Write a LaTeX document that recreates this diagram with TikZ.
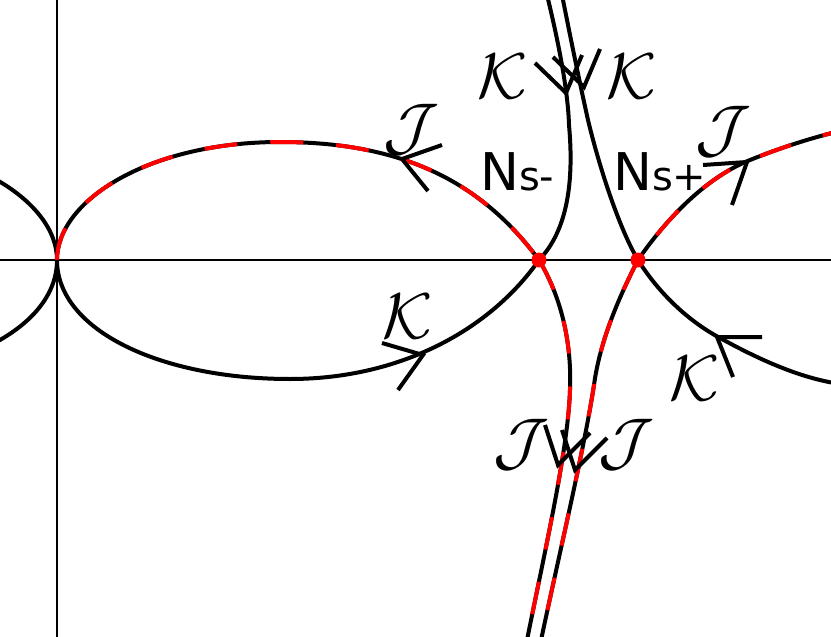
\documentclass[tikz,border=0pt]{standalone}
\usepackage{fontspec}
\newfontfamily\dvs{DejaVu Sans}
\newcommand{\bigcal}[1]{\scalebox{2.6}{\Huge$\mathcal{#1}$}}
\tikzset{
  kcurve/.style={line width=4pt, black},
  jcurve/.style={line width=4pt, black, postaction={draw=red, dash pattern=on 33pt off 33pt, dash phase=#1}},
  jcurve/.default=0pt,
  chev/.style={line width=4pt, black, line join=miter},
  axisline/.style={line width=1.5pt, black},
  lbl/.style={inner sep=0pt},
  nlbl/.style={inner sep=0pt, anchor=base west},
  saddle/.style={circle, fill=red, inner sep=0pt, minimum size=15pt}
}
\begin{document}
\begin{tikzpicture}[x=1pt, y=-1pt]
\useasboundingbox (0,0) rectangle (831,637);
\begin{scope}
\clip (0,0) rectangle (831,637);
\coordinate (o) at (57,260);
\coordinate (sm) at (539,260);
\coordinate (sp) at (638,260);
% axes
\draw[axisline] (0,260) -- (831,260);
\draw[axisline] (57,0) -- (57,637);
% left loop (mirror)
\draw[kcurve] (o) .. controls (57,200) and (-36,142) .. (-166,142);
\draw[kcurve] (o) .. controls (57,330) and (-46,379) .. (-176,379);
% main loop
\draw[jcurve] (o) .. controls (57,200) and (150,142) .. (280,142) .. controls (400,142) and (480,180) .. (sm);
\draw[kcurve] (o) .. controls (57,330) and (160,379) .. (290,379) .. controls (400,379) and (490,330) .. (sm);
% upward K curves
\draw[kcurve] (sm) .. controls (568,230) and (574,180) .. (569,125) .. controls (568,90) and (558,40) .. (547,-5);
\draw[kcurve] (sp) .. controls (620,230) and (600,170) .. (588,120) .. controls (578,75) and (570,35) .. (562,-5);
% downward J curves
\draw[jcurve] (sm) .. controls (560,295) and (572,340) .. (570,390) .. controls (568,450) and (545,550) .. (526,645);
\draw[jcurve] (sp) .. controls (620,295) and (600,340) .. (594,385) .. controls (584,450) and (560,550) .. (540,645);
% right loop
\draw[jcurve=35pt] (sp) .. controls (660,228) and (700,180) .. (750,160) .. controls (785,146) and (815,137) .. (840,131);
\draw[kcurve] (sp) .. controls (660,295) and (690,322) .. (720,338) .. controls (760,360) and (800,378) .. (840,384);
% chevrons
\draw[chev] (442,145) -- (402,159) -- (428,191);
\draw[chev] (382,343) -- (423,355) -- (398,390);
\draw[chev] (703,165) -- (747,162) -- (732,205);
\draw[chev] (762,337) -- (717,337) -- (733,377);
\draw[chev] (535,63) -- (566,93) -- (582,55);
\draw[chev] (553,57) -- (584,87) -- (600,49);
\draw[chev] (545,425) -- (558,465) -- (590,433);
\draw[chev] (562,430) -- (575,470) -- (607,438);
% saddle points
\node[saddle] (nsm) at (sm) {};
\node[saddle] (nsp) at (sp) {};
\end{scope}
% labels
\node[lbl] (k1) at (503,76) {\bigcal{K}};
\node[lbl] (k2) at (632,76) {\bigcal{K}};
\node[lbl] (j1) at (411,130) {\bigcal{J}};
\node[lbl] (j2) at (723,132) {\bigcal{J}};
\node[lbl] (k3) at (408,316) {\bigcal{K}};
\node[lbl] (k4) at (695,378) {\bigcal{K}};
\node[lbl] (j3) at (521,445) {\bigcal{J}};
\node[lbl] (j4) at (626,445) {\bigcal{J}};
\node[nlbl] (lm) at (480,190) {\dvs\fontsize{52}{52}\selectfont N\fontsize{40}{40}\selectfont s-};
\node[nlbl] (lp) at (613,190) {\dvs\fontsize{52}{52}\selectfont N\fontsize{40}{40}\selectfont s+};
\end{tikzpicture}
\end{document}
